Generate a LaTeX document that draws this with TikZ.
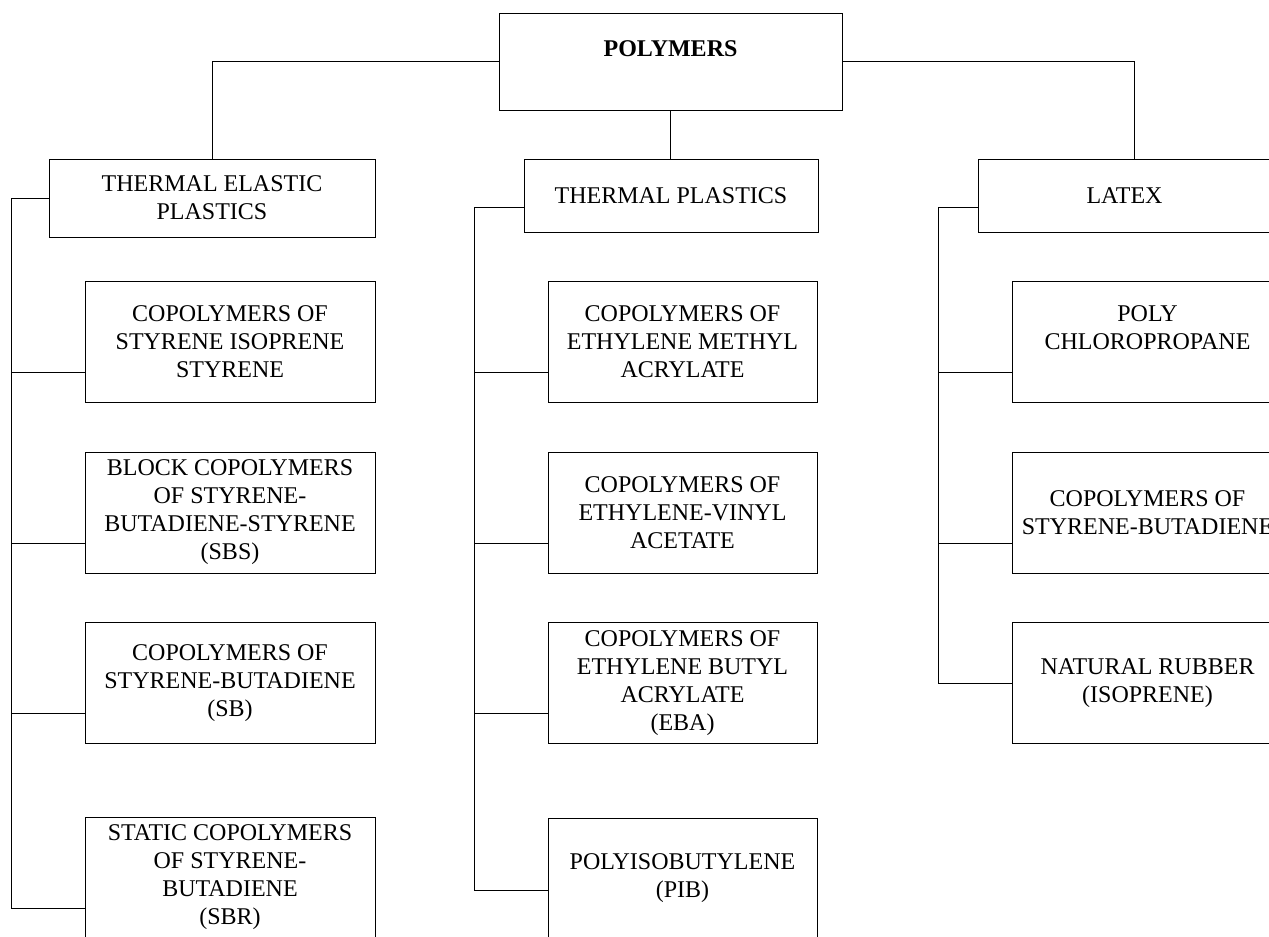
\documentclass[tikz,border=0pt]{standalone}
\usepackage{fontspec}
\setmainfont{Liberation Serif}

\begin{document}
\begin{tikzpicture}[x=1pt,y=-1pt,line width=1pt,
  box/.style={draw,inner sep=0pt,align=center,font=\fontsize{24}{28}\selectfont},
  head/.style={box,minimum height=73pt},
  item/.style={box,minimum height=121pt}]
\path[use as bounding box,clip] (0,0) rectangle (1269,937);

%% root and the three families
\node[box,minimum width=343pt,text height=43pt,text depth=54pt] (poly) at (670.5,61.5) {\textbf{POLYMERS}};
\node[box,minimum width=326pt,minimum height=78pt] (tep) at (212,198) {THERMAL ELASTIC\\PLASTICS};
\node[head,minimum width=294pt] (tp) at (671,195.5) {THERMAL PLASTICS};
\node[head,minimum width=293pt] (lat) at (1124.5,195.5) {LATEX};

%% thermal elastic plastics
\node[item,minimum width=290pt] (e1) at (230,342) {COPOLYMERS OF\\STYRENE ISOPRENE\\STYRENE};
\node[item,minimum width=290pt] (e2) at (230,512.5) {BLOCK COPOLYMERS\\OF STYRENE-\\BUTADIENE-STYRENE\\(SBS)};
\node[item,minimum width=290pt] (e3) at (230,683) {COPOLYMERS OF\\STYRENE-BUTADIENE\\(SB)};
\node[item,minimum width=290pt] (e4) at (230,877.5) {STATIC COPOLYMERS\\OF STYRENE-\\BUTADIENE\\(SBR)};

%% thermal plastics
\node[item,minimum width=269pt] (m1) at (682.5,342) {COPOLYMERS OF\\ETHYLENE METHYL\\ACRYLATE};
\node[item,minimum width=269pt] (m2) at (682.5,512.5) {COPOLYMERS OF\\ETHYLENE-VINYL\\ACETATE};
\node[item,minimum width=269pt] (m3) at (682.5,683) {COPOLYMERS OF\\ETHYLENE BUTYL\\ACRYLATE\\(EBA)};
\node[item,minimum width=269pt] (m4) at (682.5,878.5) {POLYISOBUTYLENE\\(PIB)};

%% latex
\node[item,minimum width=271pt] (r1) at (1147.5,342) {POLY\\CHLOROPROPANE\\\mbox{}};
\node[item,minimum width=271pt] (r2) at (1147.5,512.5) {COPOLYMERS OF\\STYRENE-BUTADIENE};
\node[item,minimum width=271pt] (r3) at (1147.5,683) {NATURAL RUBBER\\(ISOPRENE)};

%% entry points on the items
\foreach \n/\dy in {e1/-30.5pt,e2/-30.5pt,e3/-30.5pt,e4/-30.5pt,
                    m1/-30.5pt,m2/-30.5pt,m3/-30.5pt,m4/-11.5pt,
                    r1/-30.5pt,r2/-30.5pt,r3/0pt}
  \coordinate (\n in) at ([yshift=\dy]\n.west);

%% root to families
\draw (poly.west) -| (tep.north);
\draw (poly.east) -| ([xshift=9.5pt]lat.north);
\draw (poly.south) -- (poly.south |- tp.north);

%% buses
\draw (tep.west) -- ++(-37,0) coordinate (busl) |- (e4in);
\draw ([yshift=-12pt]tp.west) -- ++(-49,0) coordinate (busm) |- (m4in);
\draw ([yshift=-12pt]lat.west) -- ++(-39,0) coordinate (busr) |- (r3in);
\foreach \n in {e1,e2,e3} \draw (\n in) -- (busl |- \n in);
\foreach \n in {m1,m2,m3} \draw (\n in) -- (busm |- \n in);
\foreach \n in {r1,r2} \draw (\n in) -- (busr |- \n in);
\end{tikzpicture}
\end{document}
